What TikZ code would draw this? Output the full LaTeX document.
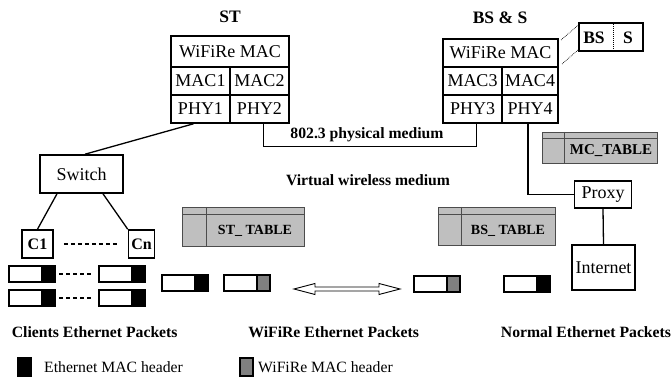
\documentclass[tikz,border=0pt]{standalone}
\usepackage{fontspec}
\setmainfont{Liberation Serif}
\usetikzlibrary{calc}

\begin{document}
\begin{tikzpicture}[x=1pt,y=-1pt,
  cell/.style={draw, line width=1.6pt, inner sep=0pt, font=\fontsize{18}{20}\selectfont},
  bcell/.style={draw, line width=1.6pt, inner sep=0pt, font=\bfseries\fontsize{16}{18}\selectfont},
  title/.style={inner sep=0pt, font=\bfseries\fontsize{15.7}{18}\selectfont},
  headtitle/.style={inner sep=0pt, font=\bfseries\fontsize{17.5}{20}\selectfont},
  legtext/.style={inner sep=0pt, anchor=west, font=\fontsize{15.7}{18}\selectfont},
  tbl/.style={draw=black!70, fill=black!25, line width=0.8pt},
  tbltext/.style={inner sep=0pt, font=\bfseries\fontsize{14}{16}\selectfont},
  wire/.style={line width=1.3pt},
  pkt/.style={line width=1.2pt},
  pics/packet/.style={code={
    \draw[pkt, fill=white] (0,0) rectangle (33,16);
    \draw[pkt, fill=#1] (33,0) rectangle (46,16);
  }}
]
\useasboundingbox (0,0) rectangle (672,379);
\definecolor{hdrgray}{RGB}{128,128,128}

% ---- ST protocol stack ----
\node[headtitle] (sttitle) at (230,17) {ST};
\node[cell, minimum width=118, minimum height=31] (stmac) at (230,51.5) {WiFiRe MAC};
\node[cell, minimum width=59, minimum height=28] (mac1) at (200.5,81) {MAC1};
\node[cell, minimum width=59, minimum height=28] (mac2) at (259.5,81) {MAC2};
\node[cell, minimum width=59, minimum height=28] (phy1) at (200.5,109) {PHY1};
\node[cell, minimum width=59, minimum height=28] (phy2) at (259.5,109) {PHY2};

% ---- BS & S protocol stack ----
\node[headtitle] (bstitle) at (500,18) {BS \& S};
\node[cell, minimum width=115, minimum height=28] (bsmac) at (500.5,53) {WiFiRe MAC};
\node[cell, minimum width=59, minimum height=28] (mac3) at (472.5,81) {MAC3};
\node[cell, minimum width=56, minimum height=28] (mac4) at (530,81) {MAC4};
\node[cell, minimum width=59, minimum height=28] (phy3) at (472.5,109) {PHY3};
\node[cell, minimum width=56, minimum height=28] (phy4) at (530,109) {PHY4};

% ---- BS / S mode box ----
\node[bcell, minimum width=64, minimum height=28] (bss) at (611,37) {};
\node[headtitle] (bslab) at (594,37.5) {BS};
\node[headtitle] (slab) at (628,37.5) {S};
\draw[densely dotted, line width=1pt] ($(bss.north)+(2,0)$) -- ($(bss.south)+(2,0)$);
\coordinate (lead1) at (561,40);
\coordinate (lead2) at (562,64);
\draw[densely dotted, line width=0.7pt] (lead1) -- ($(bss.north west)+(0,3)$);
\draw[densely dotted, line width=0.7pt] (lead2) -- ($(bss.south west)+(0,-2)$);

% ---- client side ----
\node[cell, minimum width=83, minimum height=38] (switch) at (81.5,174) {Switch};
\node[bcell, minimum width=31, minimum height=28] (c1) at (37.5,244) {C1};
\node[bcell, minimum width=26, minimum height=28] (cn) at (141.5,244) {Cn};
\draw[wire] ($(phy1.south)+(-7,0)$) -- ($(switch.north)+(3.5,0)$);
\draw[wire] ($(switch.south)+(-24.5,0)$) -- (c1.north);
\draw[wire] ($(switch.south)+(21.5,0)$) -- (cn.north west);
\draw[wire, dash pattern=on 4pt off 3pt] ($(c1.east)+(10,0)$) -- ($(cn.west)+(-9,0)$);

% ---- 802.3 physical medium ----
\draw[wire] ($(phy2.south)+(4,0)$) -- ++(0,23) -| ($(phy3.south)+(4,0)$);
\node[title] (phys) at (367,135) {802.3 physical medium};
\node[title] (virt) at (368,180) {Virtual wireless medium};

% ---- proxy and internet ----
\node[cell, minimum width=57, minimum height=27] (proxy) at (603,194.5) {Proxy};
\node[cell, minimum width=63, minimum height=45] (internet) at (603.5,267.5) {Internet};
\draw[wire] ($(phy4.south)+(-2,0)$) |- (proxy.west);
\draw[wire] (proxy.south) -- (internet.north);

% ---- tables ----
\draw[tbl] (182,207) rectangle (304,246);
\draw[black!70, line width=0.8pt] (182,214) -- (304,214) (206,207) -- (206,246);
\node[tbltext] (sttab) at (255,231) {ST\_ TABLE};

\draw[tbl] (438,207) rectangle (555,245);
\draw[black!70, line width=0.8pt] (438,214) -- (555,214) (461,207) -- (461,245);
\node[tbltext] (bstab) at (508,230.5) {BS\_ TABLE};

\draw[tbl] (542,132) rectangle (657,163);
\draw[black!70, line width=0.8pt] (542,138.5) -- (657,138.5) (564,132) -- (564,163);
\node[tbltext, font=\bfseries\fontsize{15}{17}\selectfont] (mctab) at (611,151) {MC\_TABLE};

% ---- packets ----
\pic at (9,266) {packet=black};
\pic at (99,266) {packet=black};
\pic at (9,290) {packet=black};
\pic at (99,290) {packet=black};
\draw[wire, dash pattern=on 4pt off 3pt] (59,274) -- (92,274);
\draw[wire, dash pattern=on 4pt off 3pt] (59,298) -- (92,298);
\pic at (162,275) {packet=black};
\pic at (224,275) {packet=hdrgray};
\pic at (414,276) {packet=hdrgray};
\pic at (504,276) {packet=black};

% double hollow arrow
\draw[line width=0.9pt, fill=white] (294,289) -- (315,283.5) -- (315,287) -- (379,287) -- (379,283.5)
  -- (400,289) -- (379,294.5) -- (379,291) -- (315,291) -- (315,294.5) -- cycle;

% ---- captions ----
\node[title] (cap1) at (94.7,331.7) {Clients Ethernet Packets};
\node[title] (cap2) at (333.7,331.7) {WiFiRe Ethernet Packets};
\node[title] (cap3) at (586,331.7) {Normal Ethernet Packets};

% ---- legend ----
\draw[pkt, fill=black] (18,358) rectangle (31,376);
\node[legtext] (leg1) at (44,367.5) {Ethernet MAC header};
\draw[pkt, fill=hdrgray] (240,358) rectangle (253,376);
\node[legtext] (leg2) at (258,367.5) {WiFiRe MAC header};
\end{tikzpicture}
\end{document}
